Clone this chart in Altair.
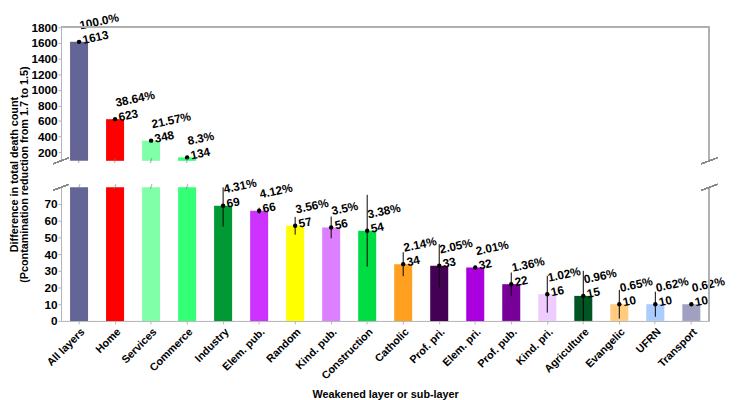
import altair as alt
import pandas as pd

cats = ["All layers", "Home", "Services", "Commerce", "Industry", "Elem. pub.", "Random",
        "Kind. pub.", "Construction", "Catholic", "Prof. pri.", "Elem. pri.", "Prof. pub.",
        "Kind. pri.", "Agriculture", "Evangelic", "UFRN", "Transport"]
values = [1613, 623, 348, 134, 69, 66, 57, 56, 54, 34, 33, 32, 22, 16, 15, 10, 10, 10]
errs = [2, 2, 2, 2, 12.5, 1.8, 5.3, 6.5, 21.5, 7.2, 13, 0.5, 7, 11, 15, 8.6, 7.5, 0.5]
pcts = ["100.0%", "38.64%", "21.57%", "8.3%", "4.31%", "4.12%", "3.56%", "3.5%", "3.38%",
        "2.14%", "2.05%", "2.01%", "1.36%", "1.02%", "0.96%", "0.65%", "0.62%", "0.62%"]
colors = ["#646496", "#ff0000", "#80ffa8", "#33ff77", "#009933", "#cc33ff", "#ffff00",
          "#dd80ff", "#00dd44", "#ffa020", "#440055", "#aa00dd", "#770099", "#eeccff",
          "#005522", "#ffcc80", "#aaccff", "#a0a0c0"]

df = pd.DataFrame({"cat": cats, "value": values, "err": errs, "pct": pcts})
df["lo"] = df["value"] - df["err"]
df["hi"] = df["value"] + df["err"]
df["label"] = df["pct"] + "\n" + df["value"].astype(str)
df["zero"] = 0

BREAK = 80
TOP_MIN = 90
W = 660
H_TOP = 136
H_BOT = 136
GAP = 27
GREY = "#b0b0b0"
FONT = "Liberation Sans"

xscale = alt.Scale(domain=cats, paddingInner=0.5, paddingOuter=0.25)
cscale = alt.Scale(domain=cats, range=colors)


def panel(domain, ticks, big, axis_x, title=None):
    base = alt.Chart(df)
    yscale = alt.Scale(domain=domain, clamp=True, nice=False, zero=False)
    yaxis_kw = dict(values=ticks, tickCount=len(ticks) + 2, format="d", labelOverlap=False,
                    labelFontWeight="bold", labelFontSize=12, labelColor="black", labelFont=FONT,
                    domainColor=GREY, tickColor=GREY, tickSize=3, grid=False, labelPadding=1)
    if title is not None:
        yaxis_kw.update(title=title, titleFontSize=11, titleFontWeight="bold", titleColor="black",
                        titleFont=FONT, titleLineHeight=11,
                        titleY=(H_TOP + GAP + H_BOT) / 2, titlePadding=1)
    else:
        yaxis_kw.update(title=None)
    if axis_x:
        xaxis = alt.Axis(title="Weakened layer or sub-layer", labelAngle=-45, labelFontSize=11,
                         labelFontWeight="bold", labelColor="black", labelFont=FONT,
                         domainColor=GREY, tickColor=GREY, tickSize=3, titleFontSize=11,
                         titleFontWeight="bold", titleFont=FONT, titleColor="black",
                         titlePadding=8, labelPadding=2)
    else:
        xaxis = None
    x = alt.X("cat:N", sort=cats, scale=xscale, axis=xaxis)
    y = alt.Y("value:Q", scale=yscale, axis=alt.Axis(**yaxis_kw))

    bars = base.mark_bar().encode(
        x=x, y=y, y2="zero:Q",
        color=alt.Color("cat:N", scale=cscale, legend=None))

    sel = (alt.datum.value > BREAK) if big else (alt.datum.value <= BREAK)
    pts = base.transform_filter(sel)
    err = pts.mark_rule(color="black", strokeWidth=1).encode(x=alt.X("cat:N", sort=cats), y="lo:Q", y2="hi:Q")
    dot = pts.mark_circle(color="black", size=20, opacity=1).encode(x=alt.X("cat:N", sort=cats), y="value:Q")
    txt = pts.mark_text(align="left", baseline="bottom", angle=348, dx=4, dy=-9, lineBreak="\n",
                        fontSize=12, fontWeight="bold", font=FONT, color="black", lineHeight=15).encode(
        x=alt.X("cat:N", sort=cats), y="value:Q", text="label:N")

    # break slashes on bars that cross the break
    brk = base.transform_filter(alt.datum.value > BREAK).transform_calculate(
        yb=str(TOP_MIN if big else BREAK), s="'/'")
    slash = brk.mark_text(color="#777777", fontSize=8, baseline="middle").encode(
        x=alt.X("cat:N", sort=cats), y="yb:Q", text="s:N")

    layers = [bars, err, dot, txt, slash]

    # frame lines and axis break marks (decoration)
    right = base.mark_rule(color=GREY).encode(x=alt.value(W), y=alt.value(0), y2=alt.value(H_TOP if big else H_BOT))
    layers.append(right)
    if big:
        topline = base.mark_rule(color=GREY).encode(x=alt.value(0), x2=alt.value(W), y=alt.value(0))
        layers.append(topline)
        yb = H_TOP
    else:
        yb = 0
    for cx in (0, W):
        layers.append(base.mark_rule(color="#888888").encode(
            x=alt.value(cx - 8), x2=alt.value(cx + 8), y=alt.value(yb + 3), y2=alt.value(yb - 3)))

    return alt.layer(*layers).properties(width=W, height=H_TOP if big else H_BOT).resolve_scale(y="shared")


top = panel([TOP_MIN, 1800], list(range(200, 1801, 200)), True, False,
            title=["Difference in total death count", "(Pcontamination reduction from 1.7 to 1.5)"])
bottom = panel([0, BREAK], list(range(0, 71, 10)), False, True)

chart = alt.vconcat(top, bottom, spacing=GAP, bounds="flush").resolve_scale(y="independent").configure(
    font=FONT, padding={"left": 0, "top": 0, "right": 0, "bottom": 0}
).configure_view(stroke=None).configure_axis(labelOverlap=False)

chart.save("out.html", embed_options={"renderer": "svg", "actions": False})
